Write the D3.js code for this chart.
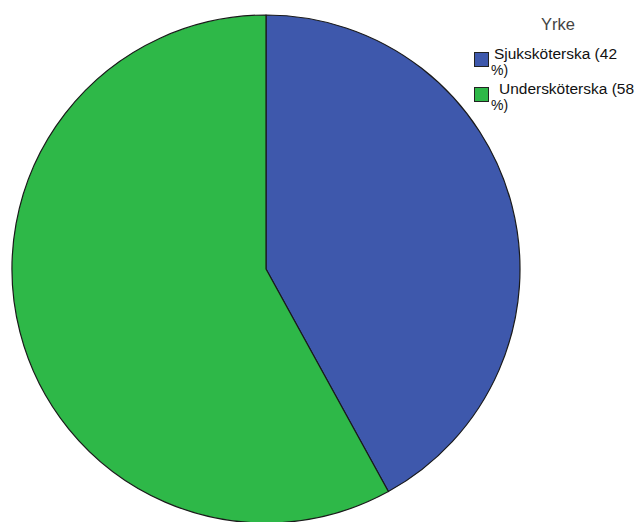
<!DOCTYPE html>
<html>
<head>
<meta charset="utf-8">
<script src="https://cdn.jsdelivr.net/npm/d3@7"></script>
<style>
  html, body { margin: 0; padding: 0; background: #ffffff; }
  svg { display: block; }
  text { font-family: "Liberation Sans", Arial, sans-serif; }
</style>
</head>
<body>
<svg id="chart" width="642" height="522"></svg>
<script>
// Yrke (occupation) share of respondents, percent
const categories = ["Sjuksköterska", "Undersköterska"];
const percents = [42, 58];
const colors = ["#3E58AC", "#2EB848"];
const legendTitle = "Yrke";

const svg = d3.select("#chart");

const cx = 266, cy = 269, radius = 254;

const pie = d3.pie()
  .sort(null)
  .value(d => d.value)
  .startAngle(0)
  .endAngle(2 * Math.PI);

const data = categories.map((c, i) => ({ name: c, value: percents[i], color: colors[i] }));

const arc = d3.arc().innerRadius(0).outerRadius(radius);

const g = svg.append("g").attr("transform", `translate(${cx},${cy})`);

g.selectAll("path.slice")
  .data(pie(data))
  .join("path")
  .attr("class", "slice")
  .attr("d", arc)
  .attr("fill", d => d.data.color)
  .attr("stroke", "#1a1a1a")
  .attr("stroke-width", 1.2)
  .attr("stroke-linejoin", "round");

// Legend
const legend = svg.append("g");

legend.append("text")
  .attr("x", 558)
  .attr("y", 30)
  .attr("text-anchor", "middle")
  .attr("font-size", 16.5)
  .attr("fill", "#444")
  .text(legendTitle);

const itemY = [52, 87];
const firstLineX = [494, 499];
const firstLineW = [123, 135];

const items = legend.selectAll("g.item")
  .data(data)
  .join("g")
  .attr("class", "item")
  .attr("transform", (d, i) => `translate(0,${itemY[i]})`);

items.append("rect")
  .attr("x", 474.5)
  .attr("y", 0.5)
  .attr("width", 14)
  .attr("height", 14)
  .attr("fill", d => d.color)
  .attr("stroke", "#222")
  .attr("stroke-width", 1);

items.append("text")
  .attr("x", (d, i) => firstLineX[i])
  .attr("y", 7)
  .attr("font-size", 14)
  .attr("textLength", (d, i) => firstLineW[i])
  .attr("lengthAdjust", "spacingAndGlyphs")
  .attr("fill", "#111")
  .text(d => `${d.name} (${d.value}`);

items.append("text")
  .attr("x", 491)
  .attr("y", 23)
  .attr("font-size", 14)
  .attr("fill", "#111")
  .text("%)");
</script>
</body>
</html>
